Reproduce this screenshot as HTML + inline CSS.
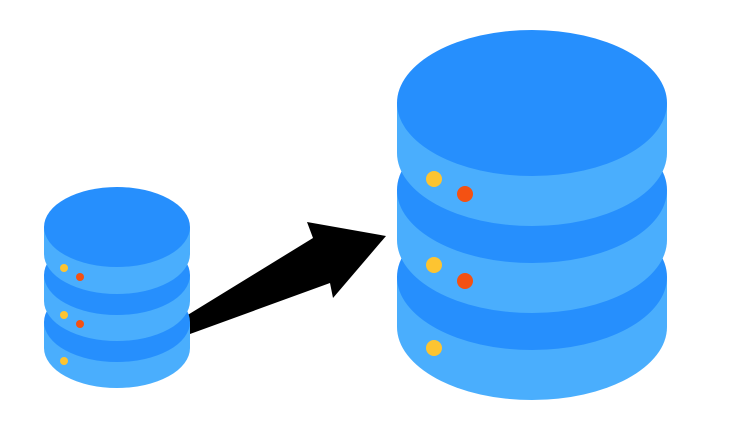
<!DOCTYPE html>
<html><head><style>html,body{margin:0;padding:0;background:#fff;}svg{display:block}</style></head>
<body>
<svg width="747" height="430" viewBox="0 0 747 430" xmlns="http://www.w3.org/2000/svg">
<polygon points="186,316 313,238 307,222 386,236 333,298 330,283 190,334" fill="#000"/>
<g>
<!-- big db, bottom segment first -->
<g>
<rect x="397" y="277" width="270" height="50" fill="#4aaefd"/>
<ellipse cx="532" cy="327" rx="135" ry="73" fill="#4aaefd"/>
<ellipse cx="532" cy="277" rx="135" ry="73" fill="#268ffd"/>
</g>
<g>
<rect x="397" y="190" width="270" height="50" fill="#4aaefd"/>
<ellipse cx="532" cy="240" rx="135" ry="73" fill="#4aaefd"/>
<ellipse cx="532" cy="190" rx="135" ry="73" fill="#268ffd"/>
</g>
<g>
<rect x="397" y="103" width="270" height="50" fill="#4aaefd"/>
<ellipse cx="532" cy="153" rx="135" ry="73" fill="#4aaefd"/>
<ellipse cx="532" cy="103" rx="135" ry="73" fill="#268ffd"/>
</g>
<circle cx="434" cy="179" r="8" fill="#fdc431"/><circle cx="465" cy="194" r="8" fill="#f45112"/>
<circle cx="434" cy="265" r="8" fill="#fdc431"/><circle cx="465" cy="281" r="8" fill="#f45112"/>
<circle cx="434" cy="348" r="8" fill="#fdc431"/>
</g>
<g>
<rect x="44" y="322" width="146" height="26" fill="#4aaefd"/>
<ellipse cx="117" cy="348" rx="73" ry="40" fill="#4aaefd"/>
<ellipse cx="117" cy="322" rx="73" ry="40" fill="#268ffd"/>
<rect x="44" y="275" width="146" height="26" fill="#4aaefd"/>
<ellipse cx="117" cy="301" rx="73" ry="40" fill="#4aaefd"/>
<ellipse cx="117" cy="275" rx="73" ry="40" fill="#268ffd"/>
<rect x="44" y="227" width="146" height="27" fill="#4aaefd"/>
<ellipse cx="117" cy="254" rx="73" ry="40" fill="#4aaefd"/>
<ellipse cx="117" cy="227" rx="73" ry="40" fill="#268ffd"/>
<circle cx="64" cy="268" r="4" fill="#fdc431"/><circle cx="80" cy="277" r="4" fill="#f45112"/>
<circle cx="64" cy="315" r="4" fill="#fdc431"/><circle cx="80" cy="324" r="4" fill="#f45112"/>
<circle cx="64" cy="361" r="4" fill="#fdc431"/>
</g>
</svg>
</body></html>
